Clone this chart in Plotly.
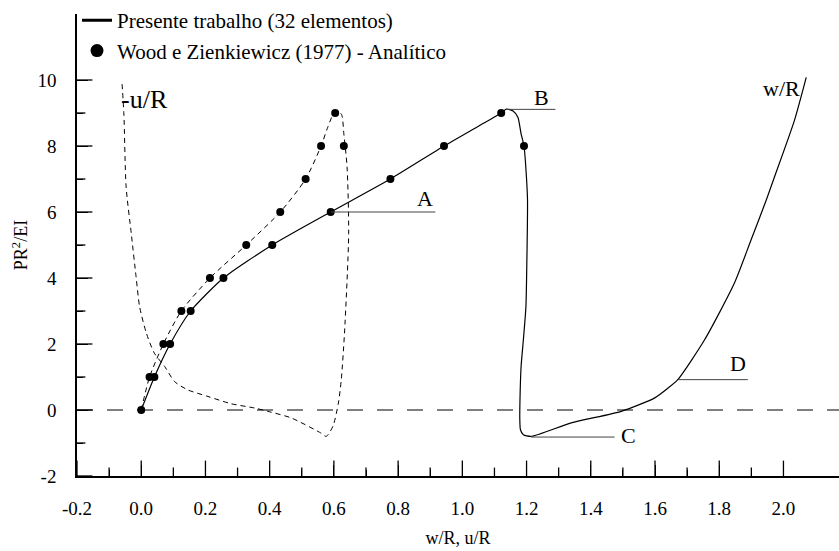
import plotly.graph_objects as go

FONT = "Liberation Serif, Times New Roman, serif"

# Present work (32 elements): w/R curve (solid)
w_x = [0.0, 0.041, 0.090, 0.154, 0.256, 0.408, 0.590, 0.776, 0.943, 1.05, 1.121, 1.137,
       1.158, 1.173, 1.183, 1.192, 1.200, 1.203, 1.201, 1.198, 1.190, 1.183, 1.180, 1.179,
       1.181, 1.190, 1.214, 1.339, 1.495, 1.598, 1.640, 1.671, 1.754, 1.847, 1.899, 1.946,
       1.972, 2.034, 2.071]
w_y = [0.0, 1.0, 2.0, 3.0, 4.0, 5.0, 6.0, 7.0, 8.0, 8.6, 9.0, 9.12,
       9.06, 8.87, 8.37, 8.0, 7.0, 6.34, 4.54, 3.13, 2.12, 1.32, 0.52, -0.29,
       -0.6, -0.75, -0.80, -0.39, -0.04, 0.36, 0.66, 0.92, 2.12, 3.84, 5.15, 6.35,
       7.06, 8.77, 10.08]

# Present work: -u/R curve (dashed)
u_x = [0.0, 0.026, 0.069, 0.125, 0.214, 0.327, 0.433, 0.512, 0.560, 0.581, 0.604, 0.623,
       0.631, 0.641, 0.646, 0.633, 0.623, 0.614, 0.597, 0.576, 0.560, 0.467, 0.394, 0.353,
       0.280, 0.208, 0.145, 0.104, 0.073, 0.041, 0.016, -0.005, -0.016, -0.031, -0.047,
       -0.054, -0.060]
u_y = [0.0, 1.0, 2.0, 3.0, 4.0, 5.0, 6.0, 7.0, 8.0, 8.57, 9.05, 8.97,
       8.37, 7.36, 5.35, 2.33, 0.92, 0.21, -0.49, -0.80, -0.70, -0.24, -0.04, 0.06,
       0.19, 0.41, 0.61, 0.86, 1.32, 1.72, 2.33, 3.13, 4.04, 5.35, 6.76,
       8.97, 9.93]

# Wood e Zienkiewicz (1977) - analytic points
ana_w_x = [0.0, 0.041, 0.090, 0.154, 0.256, 0.408, 0.590, 0.776, 0.943, 1.121, 1.192]
ana_w_y = [0, 1, 2, 3, 4, 5, 6, 7, 8, 9, 8]
ana_u_x = [0.026, 0.069, 0.125, 0.214, 0.327, 0.433, 0.512, 0.560, 0.604, 0.631]
ana_u_y = [1, 2, 3, 4, 5, 6, 7, 8, 9, 8]

# Labelled points A-D: leader lines and label positions
pt_names = ["A", "B", "C", "D"]
pt_x0 = [0.590, 1.137, 1.214, 1.671]
pt_x1 = [0.916, 1.290, 1.474, 1.889]
pt_y = [6.0, 9.11, -0.82, 0.92]
lbl_x = [0.884, 1.245, 1.518, 1.858]
lbl_y = [6.41, 9.46, -0.78, 1.40]

X_MIN, X_MAX = -0.2, 2.173
Y_MIN, Y_MAX = -2, 12
x_ticks = [round(-0.2 + 0.2 * i, 1) for i in range(12)]
x_minor = [round(-0.1 + 0.2 * i, 1) for i in range(11)]
y_ticks = [-2, 0, 2, 4, 6, 8, 10]
y_minor = [-1, 1, 3, 5, 7, 9]

MAJOR_LEN = 11
MINOR_LEN = 6

fig = go.Figure()

fig.add_trace(go.Scatter(x=u_x, y=u_y, mode="lines", showlegend=False,
                         line=dict(color="black", width=1, dash="5px,4px",
                                   shape="spline", smoothing=0.7)))
fig.add_trace(go.Scatter(x=w_x, y=w_y, mode="lines", showlegend=False,
                         line=dict(color="black", width=1.2, shape="spline", smoothing=0.6)))
fig.add_trace(go.Scatter(x=ana_w_x + ana_u_x, y=ana_w_y + ana_u_y, mode="markers",
                         showlegend=False, marker=dict(color="black", size=8)))

# inside tick marks drawn as clipped line markers sitting on the axes
fig.add_trace(go.Scatter(x=x_ticks, y=[Y_MIN] * len(x_ticks), mode="markers", showlegend=False,
                         hoverinfo="skip", cliponaxis=True,
                         marker=dict(symbol="line-ns", size=2 * MAJOR_LEN,
                                     line=dict(color="black", width=1.3))))
fig.add_trace(go.Scatter(x=x_minor, y=[Y_MIN] * len(x_minor), mode="markers", showlegend=False,
                         hoverinfo="skip", cliponaxis=True,
                         marker=dict(symbol="line-ns", size=2 * MINOR_LEN,
                                     line=dict(color="black", width=1.3))))
fig.add_trace(go.Scatter(x=[X_MIN] * len(y_ticks), y=y_ticks, mode="markers", showlegend=False,
                         hoverinfo="skip", cliponaxis=True,
                         marker=dict(symbol="line-ew", size=2 * MAJOR_LEN,
                                     line=dict(color="black", width=1.3))))
fig.add_trace(go.Scatter(x=[X_MIN] * len(y_minor), y=y_minor, mode="markers", showlegend=False,
                         hoverinfo="skip", cliponaxis=True,
                         marker=dict(symbol="line-ew", size=2 * MINOR_LEN,
                                     line=dict(color="black", width=1.3))))

# legend entries
fig.add_trace(go.Scatter(x=[None], y=[None], mode="lines", name="Presente trabalho (32 elementos)",
                         line=dict(color="black", width=3)))
fig.add_trace(go.Scatter(x=[None], y=[None], mode="markers",
                         name="Wood e Zienkiewicz (1977) - Analítico",
                         marker=dict(color="black", size=13)))

# zero line
fig.add_shape(type="line", xref="paper", yref="y", x0=0, x1=1, y0=0, y1=0,
              line=dict(color="black", width=1, dash="16px,14px"))

for n, x0, x1, y, lx, ly in zip(pt_names, pt_x0, pt_x1, pt_y, lbl_x, lbl_y):
    fig.add_shape(type="line", xref="x", yref="y", x0=x0, x1=x1, y0=y, y1=y,
                  line=dict(color="#444", width=1))
    fig.add_annotation(x=lx, y=ly, text=n, showarrow=False,
                       font=dict(family=FONT, size=22, color="black"))

fig.add_annotation(x=0.011, y=9.42, text="-u/R", showarrow=False,
                   font=dict(family=FONT, size=26, color="black"))
fig.add_annotation(x=1.993, y=9.74, text="w/R", showarrow=False,
                   font=dict(family=FONT, size=22, color="black"))

axis_common = dict(showgrid=False, zeroline=False, showline=True, linecolor="black",
                   linewidth=1.5, ticks="inside", ticklen=MAJOR_LEN, tickwidth=1.3,
                   tickcolor="black", tickmode="array")

fig.update_layout(
    template="none",
    width=839, height=551,
    margin=dict(l=77, r=0, t=12, b=75),
    paper_bgcolor="white", plot_bgcolor="white",
    font=dict(family=FONT, size=19, color="black"),
    legend=dict(x=0.0, y=1.03, xanchor="left", yanchor="top", bgcolor="rgba(0,0,0,0)",
                font=dict(family=FONT, size=21, color="black"), tracegroupgap=0),
    xaxis=dict(range=[X_MIN, X_MAX], tickvals=x_ticks,
               ticktext=[f"{v:.1f}" for v in x_ticks], ticklabelstandoff=14,
               minor=dict(tickmode="array", tickvals=x_minor, ticks="inside",
                          ticklen=MINOR_LEN, tickwidth=1.3, tickcolor="black"),
               title=dict(text="w/R, u/R", font=dict(family=FONT, size=18), standoff=14),
               **axis_common),
    yaxis=dict(range=[Y_MIN, Y_MAX], tickvals=y_ticks,
               ticktext=[str(v) for v in y_ticks], ticklabelstandoff=15,
               minor=dict(tickmode="array", tickvals=y_minor, ticks="inside",
                          ticklen=MINOR_LEN, tickwidth=1.3, tickcolor="black"),
               title=dict(text="PR<sup>2</sup>/EI", font=dict(family=FONT, size=18), standoff=5),
               **axis_common),
)

fig.write_html("out.html")
